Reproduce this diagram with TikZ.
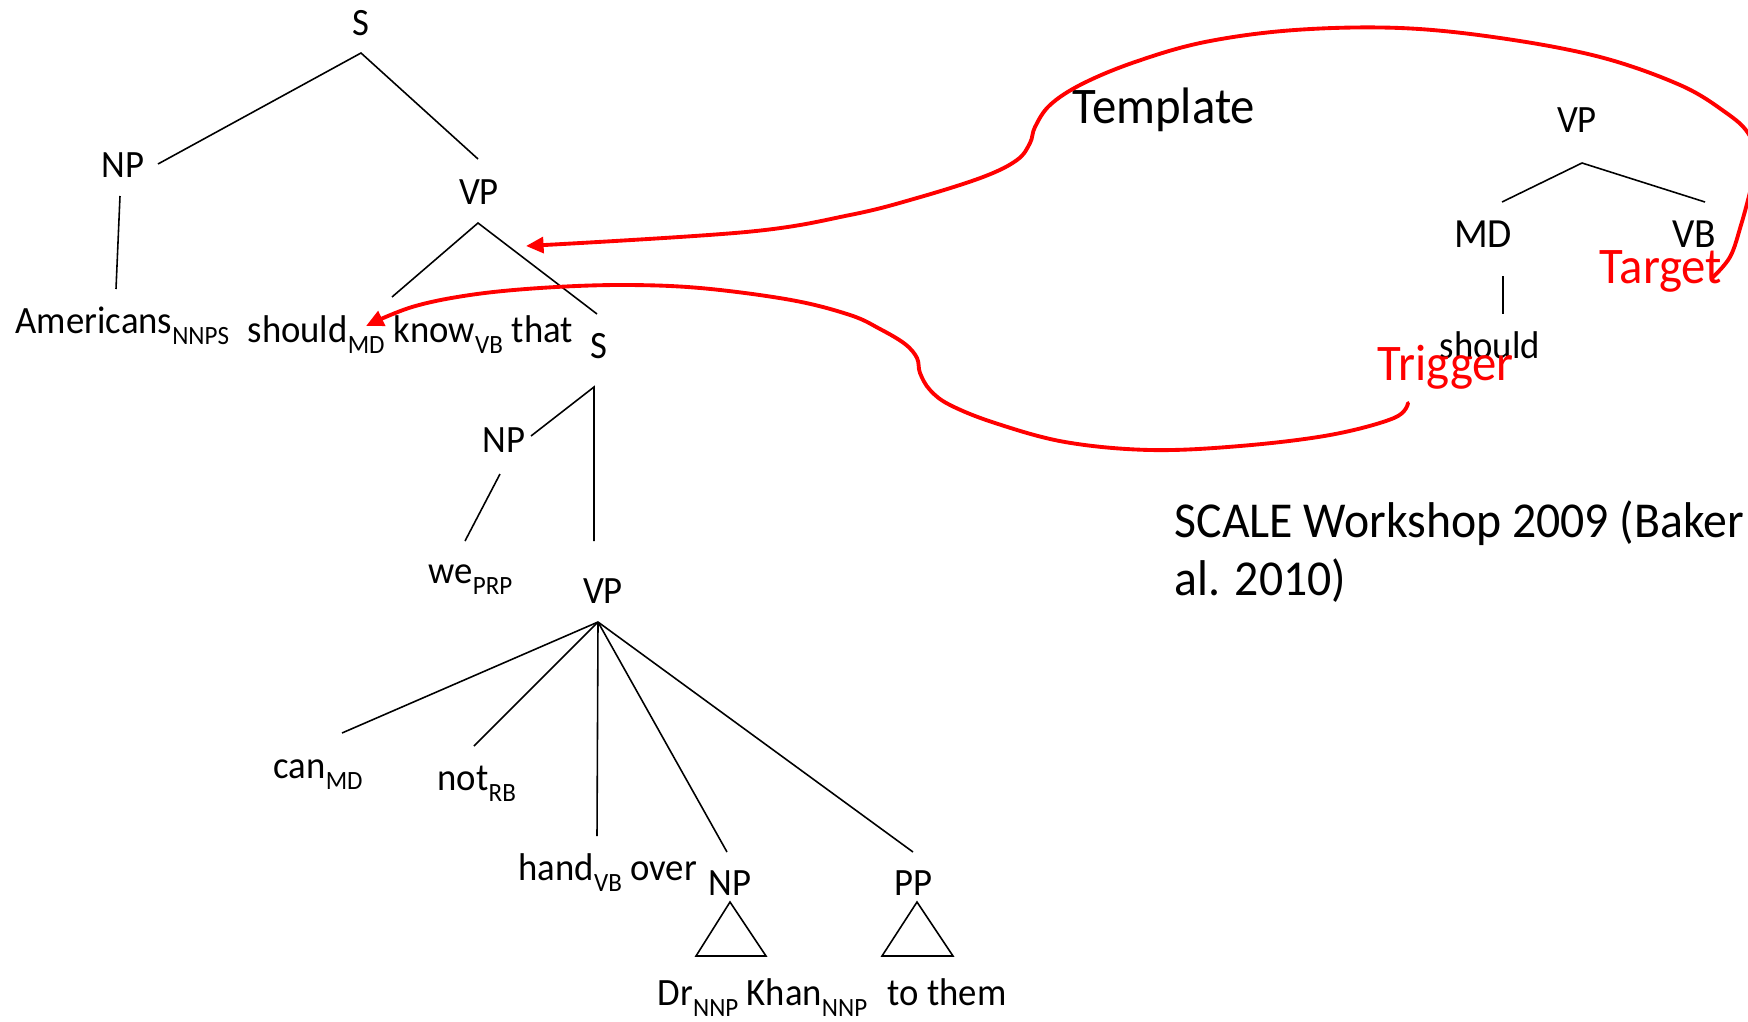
\documentclass[tikz,border=0pt]{standalone}
\usepackage{fontspec}
\setmainfont{Carlito}[FakeStretch=0.95]
\usetikzlibrary{arrows.meta}
\newcommand{\tg}[1]{\raisebox{-3.3pt}{\fontsize{7.5}{9}\selectfont #1}}
\begin{document}
\begin{tikzpicture}[x=0.1mm,y=-0.1mm,
  lbl/.style={inner sep=0pt, font=\fontsize{11}{13}\selectfont},
  mid/.style={inner sep=0pt, font=\fontsize{11.8}{14}\selectfont},
  big/.style={inner sep=0pt, font=\fontsize{14.6}{17}\selectfont},
  cite/.style={inner sep=0pt, font=\fontsize{14.3}{17}\selectfont},
  edge/.style={line width=0.45pt},
  redc/.style={draw=red, line width=1.1pt, line cap=round, -{Triangle[length=5pt,width=4.5pt]}},
]
\useasboundingbox (0,0) rectangle (1748,1021);
\begin{scope}
\clip (0,0) rectangle (1748,1021);
% ---- main tree nodes
\node[lbl, anchor=base] (S1) at (361,35) {S};
\node[lbl, anchor=base] (NP1) at (123,177) {NP};
\node[lbl, anchor=base] (VP1) at (479,204) {VP};
\node[lbl, anchor=base west] (w1) at (15,333) {Americans\tg{NNPS}};
\node[lbl, anchor=base west] (w2) at (247,342) {should\tg{MD}};
\node[lbl, anchor=base west] (w3) at (393,342) {know\tg{VB}};
\node[lbl, anchor=base west] (w4) at (511,342) {that};
\node[lbl, anchor=base] (S2) at (599,358) {S};
\node[lbl, anchor=base] (NP2) at (504,452) {NP};
\node[lbl, anchor=base west] (we) at (428,583) {we\tg{PRP}};
\node[lbl, anchor=base] (VP2) at (603,603) {VP};
\node[lbl, anchor=base west] (can) at (273,778) {can\tg{MD}};
\node[lbl, anchor=base west] (not) at (437,790) {not\tg{RB}};
\node[lbl, anchor=base west] (hand) at (518,880) {hand\tg{VB} over};
\node[lbl, anchor=base] (NP3) at (730,895) {NP};
\node[lbl, anchor=base] (PP) at (913,895) {PP};
\node[lbl, anchor=base west] (dr) at (657,1005) {Dr\tg{NNP} Khan\tg{NNP}};
\node[lbl, anchor=base west] (them) at (887,1005) {to them};
% ---- main tree edges
\coordinate (S1b) at (361,53);
\coordinate (NP1t) at (158,164);
\coordinate (VP1t) at (478,159);
\coordinate (NP1b) at (120,196);
\coordinate (w1t) at (116,289);
\coordinate (VP1b) at (478,223);
\coordinate (w2t) at (392,297);
\coordinate (S2t) at (597,314);
\coordinate (S2b) at (594,387);
\coordinate (NP2t) at (531,436);
\coordinate (VP2t) at (594,541);
\coordinate (NP2b) at (500,474);
\coordinate (wet) at (465,541);
\coordinate (VP2b) at (598,622);
\coordinate (cant) at (342,733);
\coordinate (nott) at (474,746);
\coordinate (handt) at (597,836);
\coordinate (NP3t) at (727,852);
\coordinate (PPt) at (913,852);
\draw[edge] (NP1t) -- (S1b) -- (VP1t);
\draw[edge] (NP1b) -- (w1t);
\draw[edge] (w2t) -- (VP1b) -- (S2t);
\draw[edge] (NP2t) -- (S2b) -- (VP2t);
\draw[edge] (NP2b) -- (wet);
\draw[edge] (VP2b) -- (cant);
\draw[edge] (VP2b) -- (nott);
\draw[edge] (VP2b) -- (handt);
\draw[edge] (VP2b) -- (NP3t);
\draw[edge] (VP2b) -- (PPt);
\draw[edge] (730,902) -- (766,956) -- (696,956) -- cycle;
\draw[edge] (917,902) -- (953,956) -- (882,956) -- cycle;
% ---- right tree
\node[lbl, anchor=base] (VPr) at (1577,132) {VP};
\node[mid, anchor=base] (MDr) at (1483,247) {MD};
\node[mid, anchor=base] (VBr) at (1694,247) {VB};
\node[lbl, anchor=base west] (shr) at (1439,358) {should};
\coordinate (VPrb) at (1582,163);
\coordinate (MDrt) at (1502,202);
\coordinate (VBrt) at (1705,202);
\coordinate (MDrb) at (1503,276);
\coordinate (shrt) at (1503,314);
\draw[edge] (MDrt) -- (VPrb) -- (VBrt);
\draw[edge] (MDrb) -- (shrt);
\node[big, anchor=base west] (templ) at (1072,123) {Template};
\node[big, red, anchor=base west] (trig) at (1377,380) {Trigger};
\node[big, red, anchor=base west] (targ) at (1599,283) {Target};
\node[cite, anchor=base west] (sc1) at (1174,537) {SCALE Workshop 2009 (Baker};
\node[cite, anchor=base west] (sc2) at (1174,595) {al. 2010)};
% ---- red curves
\coordinate (tipVP) at (526,246);
\coordinate (tipMD) at (366,326);
\coordinate (c1s) at (1712,278);
\coordinate (c2s) at (1408,403);
\draw[redc] plot[smooth, tension=0.6] coordinates {(c1s) (1730,257) (1741,225) (1751,188) (1757,160) (1748,133) (1725,112) (1680,85) (1600,57) (1500,38) (1400,28) (1295,30) (1205,42) (1135,62) (1082,84) (1050,105) (1035,127) (1030,143) (1017,160) (983,177) (917,198) (850,215) (746,232) (tipVP)};
\draw[redc] plot[smooth, tension=0.6] coordinates {(c2s) (1394,418) (1330,435) (1240,446) (1150,450) (1065,442) (995,423) (950,405) (930,390) (920,373) (917,358) (905,344) (880,329) (850,315) (791,300) (700,288) (620,285) (540,288) (470,295) (412,307) (tipMD)};
\end{scope}
\end{tikzpicture}
\end{document}
